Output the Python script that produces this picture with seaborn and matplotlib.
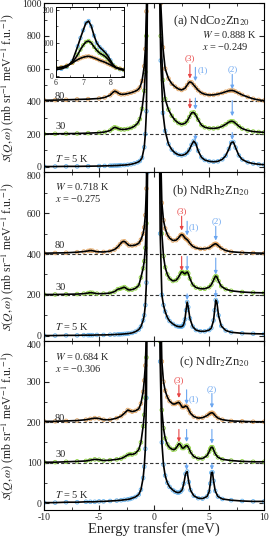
import numpy as np
import matplotlib
matplotlib.use('Agg')
import matplotlib.pyplot as plt
import matplotlib.transforms as mtransforms
import seaborn as sns
from matplotlib.ticker import MultipleLocator

# temperatures (5 K, 30 K, 80 K) and their colours
temps = ['5 K', '30 K', '80 K']
colors = ['#64B2EE', '#8BD13C', '#E3A45F']

# (a) NdCo2Zn20  -- values relative to each baseline
e_a = [-10, -9, -8, -7, -6, -5, -4.5, -4, -3.8, -3.6, -3.4, -3.2, -3.0, -2.7, -2.4, -2.1,
       -1.8, -1.5, -1.3, -1.1, -0.9, -0.8, -0.7, -0.6, -0.5, 0,
       0.4, 0.5, 0.6, 0.8, 1.0, 1.3, 1.6, 1.9, 2.2, 2.5, 2.8, 3.0, 3.2, 3.4, 3.6, 3.8, 4.0,
       4.3, 4.6, 5.0, 5.4, 5.8, 6.2, 6.5, 6.8, 7.0, 7.2, 7.4, 7.7, 8.0, 8.5, 9.0, 9.5, 10]
a_5k = [2, 2, 3, 3, 4, 5, 6, 7, 7, 8, 8, 9, 10, 11, 13, 16, 21, 28, 36, 55, 120, 200, 340, 1100, 3000, 6000,
        2000, 1100, 650, 330, 220, 140, 105, 85, 74, 70, 76, 86, 105, 135, 158, 140, 98,
        58, 42, 34, 31, 34, 46, 68, 110, 148, 152, 118, 70, 45, 28, 20, 16, 13]
a_30k = [1, 2, 3, 4, 6, 9, 13, 22, 33, 42, 38, 32, 29, 29, 32, 38, 48, 66, 92, 155, 265, 380, 600, 1100, 2500, 6000,
         2000, 1000, 600, 330, 215, 150, 112, 85, 68, 60, 66, 80, 105, 130, 133, 115, 88,
         55, 42, 36, 35, 38, 48, 60, 74, 79, 77, 66, 48, 34, 22, 16, 13, 11]
a_80k = [7, 8, 10, 12, 14, 18, 24, 38, 52, 63, 58, 48, 43, 44, 48, 53, 60, 70, 85, 125, 215, 320, 550, 1200, 2500, 6000,
         2000, 1000, 600, 330, 200, 140, 108, 90, 76, 70, 80, 100, 119, 116, 100, 84, 68,
         52, 44, 39, 40, 45, 52, 59, 65, 67, 66, 60, 50, 40, 27, 16, 9, 5]
a_offsets = [0, 200, 400]

# inset of (a): mode (2) without offset
e_in = [6.0, 6.2, 6.4, 6.6, 6.8, 6.9, 7.0, 7.1, 7.2, 7.3, 7.4, 7.5, 7.6, 7.7, 7.8, 7.9, 8.0, 8.1, 8.2, 8.35, 8.5]
in_5k = [20, 22, 28, 45, 90, 115, 138, 160, 166, 150, 122, 100, 88, 80, 72, 62, 48, 34, 26, 21, 18]
in_30k = [25, 26, 30, 40, 65, 80, 93, 103, 106, 100, 88, 78, 70, 65, 60, 52, 42, 32, 26, 22, 19]
in_80k = [25, 27, 32, 40, 50, 54, 57, 59, 60, 58, 55, 52, 48, 45, 42, 38, 34, 30, 26, 23, 20]

# (b) NdRh2Zn20
e_b = [-10, -9, -8, -7, -6.4, -6.0, -5.8, -5.6, -5.2, -4.6, -4.0, -3.6, -3.3, -3.1, -2.9, -2.7, -2.5, -2.3,
       -2.0, -1.7, -1.4, -1.2, -1.0, -0.9, -0.8, -0.7, -0.6, -0.5, 0,
       0.35, 0.45, 0.55, 0.7, 0.85, 1.0, 1.2, 1.4, 1.7, 2.0, 2.2, 2.4, 2.5, 2.6, 2.7, 2.8, 2.9, 3.0, 3.1,
       3.25, 3.5, 3.8, 4.2, 4.6, 5.0, 5.2, 5.4, 5.5, 5.6, 5.7, 5.85, 6.1, 6.5, 7.0, 8.0, 9.0, 10]
b_5k = [1, 1, 2, 2, 3, 3, 3, 3, 4, 4, 5, 6, 7, 7, 8, 9, 10, 11, 14, 20, 30, 45, 75, 100, 150, 260, 800, 2500, 6000,
        3000, 1200, 500, 200, 150, 118, 90, 72, 58, 48, 45, 44, 45, 48, 58, 80, 125, 165, 140,
        85, 45, 28, 22, 22, 28, 38, 75, 125, 175, 165, 100, 48, 26, 17, 12, 10, 9]
b_30k = [2, 2, 3, 4, 6, 9, 11, 10, 6, 6, 9, 16, 28, 30, 34, 38, 30, 24, 26, 32, 46, 85, 130, 165, 230, 350, 1000, 2500, 6000,
         3000, 2000, 700, 300, 190, 135, 100, 80, 68, 72, 85, 105, 112, 112, 106, 103, 108, 112, 105,
         80, 50, 36, 30, 30, 38, 50, 72, 85, 92, 88, 68, 42, 28, 20, 14, 11, 10]
b_80k = [4, 5, 6, 9, 12, 15, 17, 16, 11, 10, 14, 22, 35, 48, 60, 62, 52, 42, 41, 44, 52, 70, 100, 130, 190, 320, 1000, 2500, 6000,
         3000, 1500, 600, 250, 165, 125, 95, 78, 66, 68, 78, 92, 95, 93, 86, 78, 74, 70, 64,
         52, 38, 30, 25, 26, 30, 38, 46, 49, 50, 47, 40, 28, 17, 11, 7, 5, 4]
b_offsets = [0, 200, 400]

# (c) NdIr2Zn20
e_c = [-10, -9, -8, -7, -6.2, -5.8, -5.4, -5.0, -4.6, -4.0, -3.4, -3.0, -2.7, -2.4, -2.2, -2.0, -1.7,
       -1.4, -1.2, -1.0, -0.9, -0.8, -0.7, -0.6, -0.5, 0,
       0.35, 0.45, 0.55, 0.7, 0.85, 1.0, 1.2, 1.4, 1.7, 1.9, 2.1, 2.25, 2.4, 2.55, 2.7, 2.85, 3.0, 3.15,
       3.3, 3.6, 4.0, 4.4, 4.8, 5.0, 5.1, 5.2, 5.3, 5.4, 5.55, 5.8, 6.2, 7.0, 8.0, 9.0, 10]
c_5k = [1, 1, 2, 2, 3, 3, 3, 4, 4, 5, 6, 7, 8, 9, 10, 12, 15, 21, 33, 62, 90, 134, 260, 800, 2000, 6000,
        3000, 900, 350, 150, 95, 68, 50, 40, 32, 28, 26, 26, 28, 33, 48, 72, 78, 52,
        32, 18, 12, 11, 16, 28, 48, 75, 76, 55, 30, 16, 10, 7, 5, 4, 4]
c_30k = [1, 1, 2, 3, 4, 6, 8, 7, 5, 6, 8, 10, 14, 19, 21, 20, 23, 32, 50, 90, 118, 160, 260, 700, 2000, 6000,
         3000, 900, 300, 130, 85, 60, 45, 37, 32, 33, 40, 47, 44, 36, 36, 41, 42, 36,
         26, 15, 10, 10, 17, 27, 34, 38, 38, 32, 22, 13, 8, 5, 3, 2, 2]
c_80k = [2, 2, 3, 4, 6, 8, 10, 9, 6, 6, 10, 15, 22, 30, 28, 26, 28, 33, 46, 75, 103, 140, 220, 700, 2000, 6000,
         3000, 900, 350, 150, 100, 78, 62, 52, 45, 45, 48, 49, 44, 37, 37, 40, 38, 30,
         22, 14, 10, 11, 16, 20, 22, 23, 23, 21, 16, 10, 6, 3, 2, 1, 1]
c_offsets = [0, 100, 200]

sns.set_theme(style='ticks')
plt.rcParams['font.family'] = ['Liberation Serif', 'DejaVu Serif']
plt.rcParams['mathtext.fontset'] = 'stix'
plt.rcParams['axes.unicode_minus'] = False

red = '#E84545'
lblue = '#6BA6F0'


def draw_curves(ax, energy, curves, offsets, ms=7):
    for vals, off, col in zip(curves, offsets, colors):
        y = np.array(vals, dtype=float) + off
        sns.scatterplot(x=energy, y=y, ax=ax, marker='o', s=ms, color=col, edgecolor=col,
                        linewidth=0.6, zorder=2, legend=False)
        ax.collections[-1].set_facecolor('none')
        sns.lineplot(x=energy, y=y, ax=ax, color='black', linewidth=1.2, zorder=3,
                     errorbar=None, legend=False)


def arrow(ax, x, y0, y1, col):
    ax.annotate('', xy=(x, y1), xytext=(x, y0),
                arrowprops=dict(arrowstyle='-|>', color=col, lw=0.8, mutation_scale=5,
                                shrinkA=0, shrinkB=0), zorder=5)


fig, axes = plt.subplots(3, 1, figsize=(2.69, 5.40), dpi=100, sharex=True)
fig.subplots_adjust(left=0.164, right=0.982, top=0.994, bottom=0.055, hspace=0)

panels = [
    (e_a, [a_5k, a_30k, a_80k], a_offsets, (-33, 1000), 200),
    (e_b, [b_5k, b_30k, b_80k], b_offsets, (-27, 800), 200),
    (e_c, [c_5k, c_30k, c_80k], c_offsets, (-18, 400), 100),
]
ylab = r'$S(Q,\omega)$ (mb sr$^{-1}$ meV$^{-1}$ f.u.$^{-1}$)'

for ax, (e, curves, offs, ylim, major) in zip(axes, panels):
    draw_curves(ax, e, curves, offs)
    for off in offs[1:]:
        ax.axhline(off, color='#333333', ls=(0, (3, 2)), lw=0.8, zorder=1)
    ax.set_xlim(-10, 10)
    ax.set_ylim(*ylim)
    ax.yaxis.set_major_locator(MultipleLocator(major))
    ax.yaxis.set_minor_locator(MultipleLocator(major / 2))
    ax.xaxis.set_major_locator(MultipleLocator(5))
    ax.xaxis.set_minor_locator(MultipleLocator(2.5))
    ax.tick_params(which='both', direction='in', top=True, right=True, labelsize=7, pad=2)
    ax.tick_params(which='major', length=3.5, width=0.8)
    ax.tick_params(which='minor', length=2, width=0.6)
    for sp in ax.spines.values():
        sp.set_linewidth(0.8)
        sp.set_color('black')
    ax.set_ylabel(ylab, fontsize=8.5, labelpad=4)
    ax.set_xlabel('')

axes[2].set_xlabel('Energy transfer (meV)', fontsize=10.5, labelpad=0)
fig.align_ylabels(axes)

# top tick label of lower panels sits a little below the panel joint
shift = mtransforms.ScaledTranslation(0, -3 / 100, fig.dpi_scale_trans)
for ax in axes[1:]:
    locs = list(ax.yaxis.get_majorticklocs())
    ticks = ax.yaxis.get_major_ticks(len(locs))
    top = ax.get_ylim()[1]
    for loc, tick in zip(locs, ticks):
        if abs(loc - top) < 1e-6:
            tick.label1.set_transform(tick.label1.get_transform() + shift)

# panel (a) texts and arrows
ax = axes[0]
ax.text(8.7, 890, r'(a) NdCo$_2$Zn$_{20}$', ha='right', va='center', fontsize=9)
ax.text(4.35, 808, r'$W$ = 0.888 K', ha='left', va='center', fontsize=7.5)
ax.text(4.35, 736, '$x$ = \u22120.249', ha='left', va='center', fontsize=7.5)
ax.text(-9.0, 432, '80', ha='left', va='center', fontsize=7.5)
ax.text(-9.0, 247, '30', ha='left', va='center', fontsize=7.5)
ax.text(-9.0, 51, r'$T$ = 5 K', ha='left', va='center', fontsize=7.5)
ax.text(3.25, 665, '(3)', color=red, ha='center', va='center', fontsize=6.5)
ax.text(4.4, 592, '(1)', color=lblue, ha='center', va='center', fontsize=6.5)
ax.text(7.1, 600, '(2)', color=lblue, ha='center', va='center', fontsize=6.5)
for x, y0, y1, c in [(3.25, 625, 540, red), (3.75, 608, 524, lblue), (7.1, 565, 475, lblue),
                     (3.25, 415, 355, red), (3.75, 420, 350, lblue), (7.1, 405, 310, lblue),
                     (3.75, 195, 162, lblue), (7.1, 210, 165, lblue)]:
    arrow(ax, x, y0, y1, c)

# panel (b)
ax = axes[1]
ax.text(8.7, 705, r'(b) NdRh$_2$Zn$_{20}$', ha='right', va='center', fontsize=9)
ax.text(-9.0, 730, r'$W$ = 0.718 K', ha='left', va='center', fontsize=7.5)
ax.text(-9.0, 672, '$x$ = \u22120.275', ha='left', va='center', fontsize=7.5)
ax.text(-9.0, 441, '80', ha='left', va='center', fontsize=7.5)
ax.text(-9.0, 236, '30', ha='left', va='center', fontsize=7.5)
ax.text(-9.0, 46, r'$T$ = 5 K', ha='left', va='center', fontsize=7.5)
ax.text(2.5, 608, '(3)', color=red, ha='center', va='center', fontsize=6.5)
ax.text(3.6, 533, '(1)', color=lblue, ha='center', va='center', fontsize=6.5)
ax.text(5.65, 560, '(2)', color=lblue, ha='center', va='center', fontsize=6.5)
for x, y0, y1, c in [(2.5, 585, 515, red), (3.0, 560, 491, lblue), (5.6, 535, 466, lblue),
                     (2.5, 388, 318, red), (3.0, 388, 318, lblue), (5.6, 380, 300, lblue),
                     (3.0, 205, 175, lblue), (5.6, 222, 186, lblue)]:
    arrow(ax, x, y0, y1, c)

# panel (c)
ax = axes[2]
ax.text(8.7, 349, r'(c) NdIr$_2$Zn$_{20}$', ha='right', va='center', fontsize=9)
ax.text(-9.0, 362, r'$W$ = 0.684 K', ha='left', va='center', fontsize=7.5)
ax.text(-9.0, 332, '$x$ = \u22120.306', ha='left', va='center', fontsize=7.5)
ax.text(-9.0, 210, '80', ha='left', va='center', fontsize=7.5)
ax.text(-9.0, 121, '30', ha='left', va='center', fontsize=7.5)
ax.text(-9.0, 20, r'$T$ = 5 K', ha='left', va='center', fontsize=7.5)
ax.text(2.25, 304, '(3)', color=red, ha='center', va='center', fontsize=6.5)
ax.text(3.6, 256, '(1)', color=lblue, ha='center', va='center', fontsize=6.5)
ax.text(5.25, 281, '(2)', color=lblue, ha='center', va='center', fontsize=6.5)
for x, y0, y1, c in [(2.25, 292, 260, red), (2.95, 280, 244, lblue), (5.25, 271, 235, lblue),
                     (2.25, 182, 151, red), (2.95, 182, 151, lblue), (5.25, 182, 147, lblue),
                     (2.95, 97, 82, lblue), (5.25, 98, 82, lblue)]:
    arrow(ax, x, y0, y1, c)

# inset in (a)
axin = fig.add_axes([0.208, 0.857, 0.253, 0.13])
draw_curves(axin, e_in, [in_5k, in_30k, in_80k], [0, 0, 0], ms=6)
axin.set_xlim(6, 8.5)
axin.set_ylim(-3, 208)
axin.xaxis.set_major_locator(MultipleLocator(1))
axin.xaxis.set_minor_locator(MultipleLocator(0.5))
axin.yaxis.set_major_locator(MultipleLocator(100))
axin.yaxis.set_minor_locator(MultipleLocator(50))
axin.tick_params(which='both', direction='in', top=True, right=True, labelsize=5.5, pad=1.5)
axin.tick_params(which='major', length=2.5, width=0.6)
axin.tick_params(which='minor', length=1.5, width=0.5)
for sp in axin.spines.values():
    sp.set_linewidth(0.7)
    sp.set_color('black')
axin.set_xlabel('')
axin.set_ylabel('')

fig.savefig('out.png', dpi=100)
